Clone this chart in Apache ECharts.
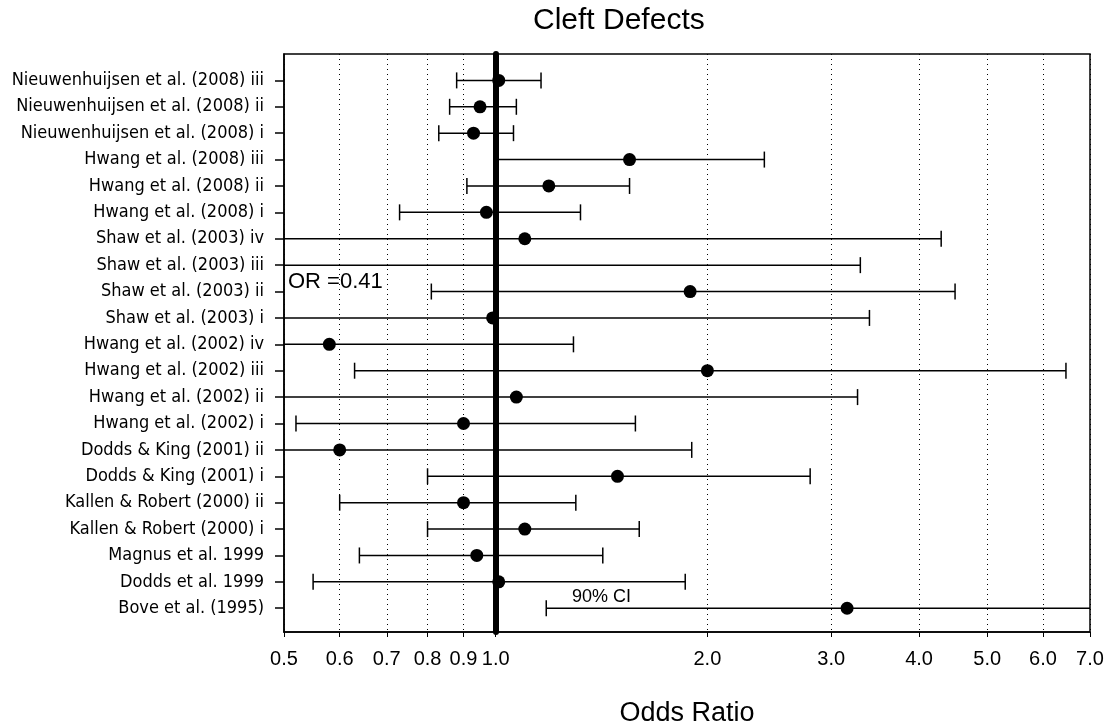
<!DOCTYPE html>
<html><head><meta charset="utf-8">
<script src="https://cdn.jsdelivr.net/npm/echarts@6/dist/echarts.min.js"></script>
<style>html,body{margin:0;padding:0;background:#fff}#c{width:1112px;height:727px}</style>
</head><body><div id="c"></div>
<script>
// Studies listed top to bottom
const studies = [
  'Nieuwenhuijsen et al. (2008) iii',
  'Nieuwenhuijsen et al. (2008) ii',
  'Nieuwenhuijsen et al. (2008) i',
  'Hwang et al. (2008) iii',
  'Hwang et al. (2008) ii',
  'Hwang et al. (2008) i',
  'Shaw et al. (2003) iv',
  'Shaw et al. (2003) iii',
  'Shaw et al. (2003) ii',
  'Shaw et al. (2003) i',
  'Hwang et al. (2002) iv',
  'Hwang et al. (2002) iii',
  'Hwang et al. (2002) ii',
  'Hwang et al. (2002) i',
  'Dodds & King (2001) ii',
  'Dodds & King (2001) i',
  'Kallen & Robert (2000) ii',
  'Kallen & Robert (2000) i',
  'Magnus et al. 1999',
  'Dodds et al. 1999',
  'Bove et al. (1995)'
];
const oddsRatio = [1.01, 0.95, 0.93, 1.55, 1.19, 0.97, 1.10, 0.41, 1.89, 0.99, 0.58, 2.00, 1.07, 0.90, 0.60, 1.49, 0.90, 1.10, 0.94, 1.01, 3.16];
const lowerCI   = [0.88, 0.86, 0.83, 1.00, 0.91, 0.73, 0.28, 0.05, 0.81, 0.29, 0.25, 0.63, 0.35, 0.52, 0.19, 0.80, 0.60, 0.80, 0.64, 0.55, 1.18];
const upperCI   = [1.16, 1.07, 1.06, 2.41, 1.55, 1.32, 4.30, 3.30, 4.50, 3.40, 1.29, 6.47, 3.27, 1.58, 1.90, 2.80, 1.30, 1.60, 1.42, 1.86, 8.50];
const xTickValues = [0.5, 0.6, 0.7, 0.8, 0.9, 1.0, 2.0, 3.0, 4.0, 5.0, 6.0, 7.0];
const xMinOR = 0.5, xMaxOR = 7.0, nullOR = 1.0;
const titleText = 'Cleft Defects';
const xAxisTitle = 'Odds Ratio';
const noteOR = 'OR =0.41';
const noteCI = '90% CI';

const L = Math.log10;
const n = studies.length;
const rowY = studies.map((s, i) => n - i);
const narrow = "'Liberation Sans Narrow','Arial Narrow','DejaVu Sans Condensed',sans-serif";
const regular = "'Liberation Sans',Arial,sans-serif";
const xMin = L(xMinOR), xMax = L(xMaxOR);

const ciData = studies.map((s, i) => [L(lowerCI[i]), L(upperCI[i]), rowY[i]]);
const pointData = studies.map((s, i) => [L(oddsRatio[i]), rowY[i]]);

const chart = echarts.init(document.getElementById('c'), null, {renderer: 'canvas'});
chart.setOption({
  backgroundColor: '#fff',
  animation: false,
  title: {
    text: titleText, left: 528, top: 1,
    textStyle: {fontFamily: regular, fontSize: 30, fontWeight: 'normal', color: '#000'}
  },
  grid: {left: 284, right: 22, top: 54, bottom: 95, containLabel: false, outerBoundsMode: 'none',
    show: true, borderColor: '#000', borderWidth: 1.5, backgroundColor: 'transparent'},
  xAxis: {
    type: 'value', min: xMin, max: xMax,
    name: xAxisTitle, nameLocation: 'middle', nameGap: 68,
    nameTextStyle: {fontFamily: regular, fontSize: 27, color: '#000'},
    axisLine: {show: true, onZero: false, lineStyle: {color: '#000', width: 1.5}},
    axisTick: {show: true, inside: false, length: 5, customValues: xTickValues.map(L), lineStyle: {color: '#000', width: 1}},
    axisLabel: {show: true, customValues: xTickValues.map(L), margin: 17, hideOverlap: false,
      formatter: v => Math.pow(10, v).toFixed(1),
      fontFamily: regular, fontSize: 20, color: '#000'},
    splitLine: {show: true, lineStyle: {color: '#000', width: 1, type: [1, 4]}}
  },
  yAxis: {
    type: 'value', min: 0.1, max: 22,
    axisLine: {show: true, onZero: false, lineStyle: {color: '#000', width: 1.5}},
    axisTick: {show: true, inside: false, length: 9, customValues: rowY, lineStyle: {color: '#000', width: 1.5}},
    axisLabel: {show: true, customValues: rowY, margin: 20, hideOverlap: false,
      formatter: v => studies[n - Math.round(v)],
      fontFamily: narrow, fontSize: 18, color: '#000'},
    splitLine: {show: false}
  },
  series: [
    {
      type: 'custom', name: 'CI', clip: true, z: 3,
      data: ciData,
      encode: {x: [0, 1], y: 2},
      renderItem: function (params, api) {
        const lo = api.value(0), hi = api.value(1), y = api.value(2);
        const a = api.coord([Math.max(lo, xMin), y]);
        const b = api.coord([Math.min(hi, xMax), y]);
        const cap = 8;
        const st = {stroke: '#000', lineWidth: 1.5};
        const children = [{type: 'line', shape: {x1: a[0], y1: a[1], x2: b[0], y2: b[1]}, style: st}];
        if (lo >= xMin) children.push({type: 'line', shape: {x1: a[0], y1: a[1] - cap, x2: a[0], y2: a[1] + cap}, style: st});
        if (hi <= xMax) children.push({type: 'line', shape: {x1: b[0], y1: b[1] - cap, x2: b[0], y2: b[1] + cap}, style: st});
        return {type: 'group', children: children};
      }
    },
    {
      type: 'scatter', name: 'OR', clip: true, z: 5,
      data: pointData, symbol: 'circle', symbolSize: 13,
      itemStyle: {color: '#000', opacity: 1},
      markLine: {
        silent: true, symbol: 'none', label: {show: false},
        lineStyle: {color: '#000', width: 6, type: 'solid', cap: 'round', opacity: 1},
        data: [{xAxis: L(nullOR)}]
      }
    }
  ],
  graphic: [
    {type: 'text', left: 288, top: 271, style: {text: noteOR, font: "22px " + regular, fill: '#000'}},
    {type: 'text', left: 572, top: 588, style: {text: noteCI, font: "18px " + regular, fill: '#000'}}
  ]
});
</script></body></html>
